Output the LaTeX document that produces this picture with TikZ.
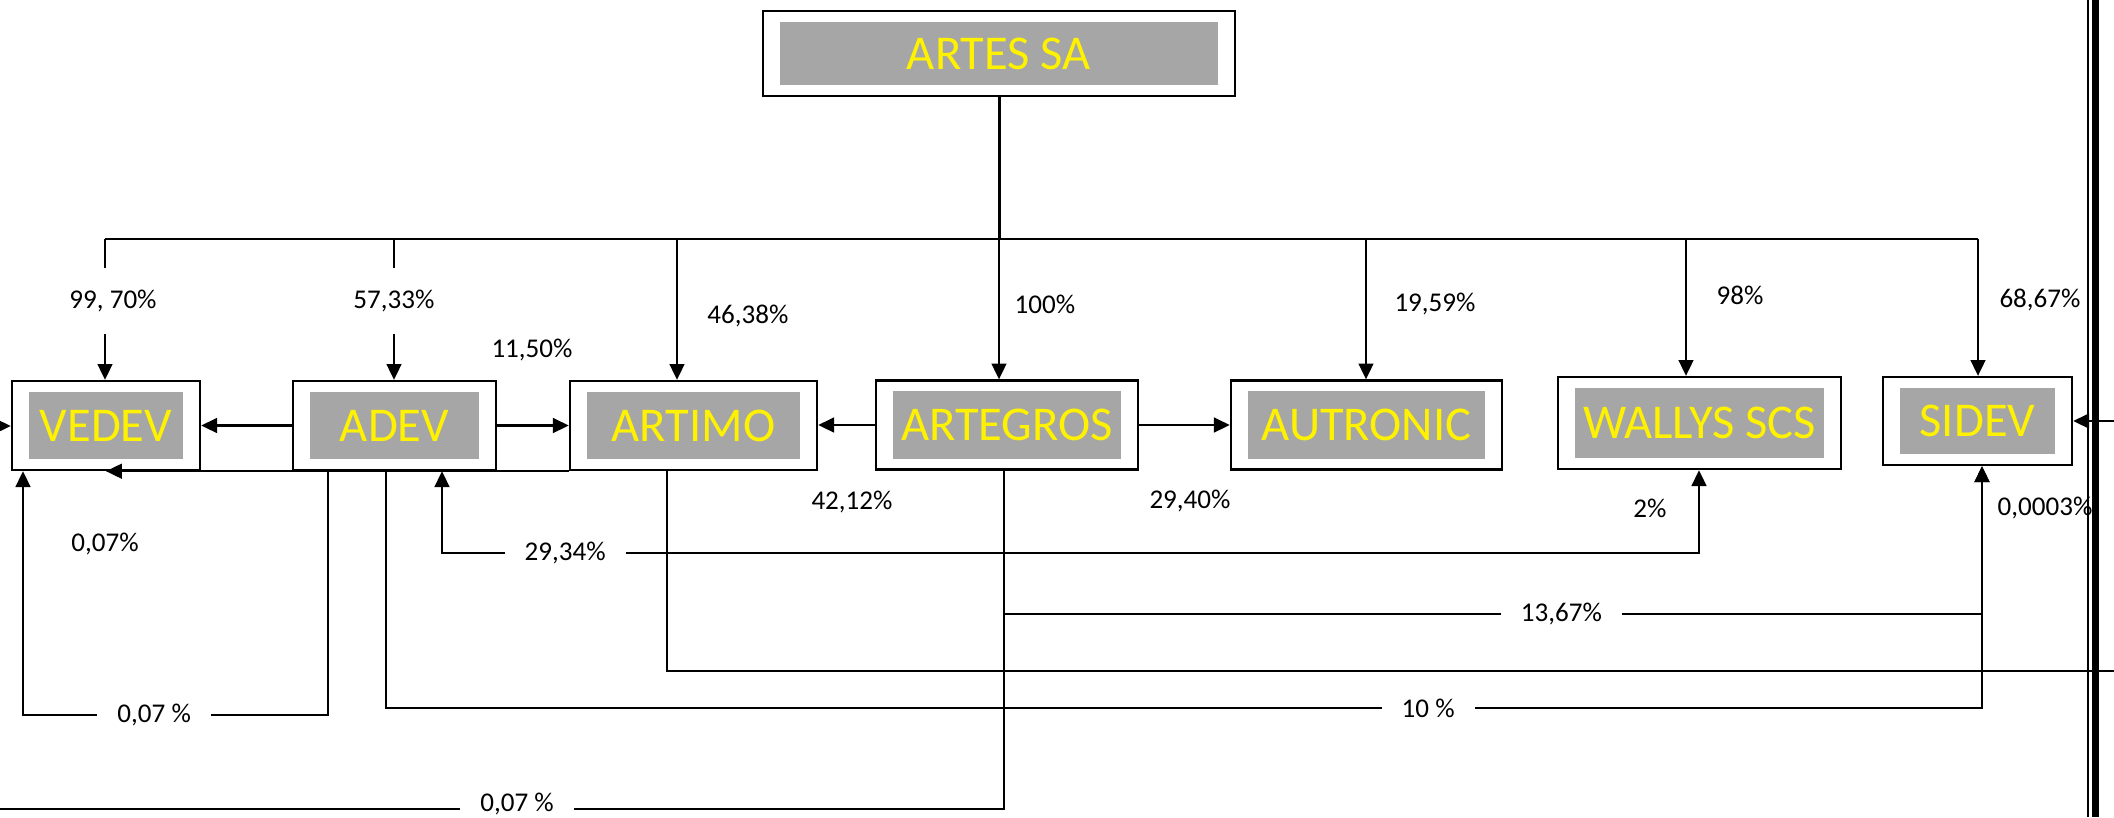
\documentclass[tikz,border=0pt]{standalone}
\usepackage{fontspec}
\usetikzlibrary{arrows.meta}
\newfontfamily\calibfont{Carlito}
\definecolor{boxgray}{HTML}{A6A6A6}

\begin{document}
\begin{tikzpicture}[x=0.01cm,y=-0.01cm,
  firm/.style={draw,line width=0.65pt,fill=white,inner sep=0pt,minimum height=0.89cm,
    text=yellow,font=\calibfont\fontsize{13.8}{16}\selectfont,
    path picture={\fill[boxgray] ([xshift=0.17cm,yshift=-0.11cm]path picture bounding box.north west)
      rectangle ([xshift=-0.17cm,yshift=0.11cm]path picture bounding box.south east);}},
  lbl/.style={font=\calibfont\fontsize{7.7}{9}\selectfont,inner sep=1pt},
  hcut/.style={lbl,fill=white,inner xsep=0.2cm,inner ysep=0.05cm},
  vcut/.style={lbl,fill=white,minimum height=0.66cm},
  link/.style={line width=0.6pt},
  >={Triangle[length=4.5pt,width=4.2pt]}]

\useasboundingbox (0,0) rectangle (2114,817);

\node[firm,minimum width=4.72cm,minimum height=0.85cm] (artes) at (999,53.5) {ARTES SA};

\node[firm,minimum width=1.88cm] (vedev) at (106,425.5) {VEDEV};
\node[firm,minimum width=2.03cm] (adev) at (394.5,425.5) {ADEV};
\node[firm,minimum width=2.47cm] (artimo) at (693.5,425.5) {ARTIMO};
\node[firm,minimum width=2.62cm] (artegros) at (1007,425) {ARTEGROS};
\node[firm,minimum width=2.71cm] (autronic) at (1366.5,425) {AUTRONIC};
\node[firm,minimum width=2.83cm,minimum height=0.92cm] (wallys) at (1699.5,423) {WALLYS SCS};
\node[firm,minimum width=1.89cm,minimum height=0.88cm] (sidev) at (1977.5,421) {SIDEV};

\coordinate (top) at (999,239);
\coordinate (bV) at (105,239);
\coordinate (bA) at (394,239);
\coordinate (bT) at (677,239);
\coordinate (bU) at (1366,239);
\coordinate (bW) at (1686,239);
\coordinate (bS) at (1978,239);
\coordinate (inV) at (0,426);
\coordinate (inS) at (2114,421);
\coordinate (outW) at (0,809);
\coordinate (outE) at (2114,671);

\draw[line width=0.85pt] (artes.south) -- (top);
\draw[line width=0.75pt] (bV) -- (bS);

\draw[link,->] (bV) -- node[vcut,pos=.44,xshift=0.08cm] {99, 70\%} (bV |- vedev.north);
\draw[link,->] (bA) -- node[vcut,pos=.44] {57,33\%} (bA |- adev.north);
\draw[link,->] (bT) -- (bT |- artimo.north);
\draw[link,->] (top) -- (top |- artegros.north);
\draw[link,->] (bU) -- (bU |- autronic.north);
\draw[link,->] (bW) -- (bW |- wallys.north);
\draw[link,->] (bS) -- (bS |- sidev.north);

\node[lbl] (l4638) at (748,316) {46,38\%};
\node[lbl] (l100) at (1045,304) {100\%};
\node[lbl] (l1959) at (1435,304) {19,59\%};
\node[lbl] (l98) at (1740,295) {98\%};
\node[lbl] (l6867) at (2040,300) {68,67\%};
\node[lbl] (l1150) at (532,350) {11,50\%};
\node[lbl] (l4212) at (852,502) {42,12\%};
\node[lbl] (l2940) at (1190,501) {29,40\%};
\node[lbl] (l2) at (1650,508) {2\%};
\node[lbl] (l0003) at (2045,508) {0,0003\%};
\node[lbl] (l007) at (105,544) {0,07\%};

\draw[link,->] (adev) -- (vedev);
\draw[link,->] (adev) -- (artimo);
\draw[link,->] (artegros.west) -- (artegros.west -| artimo.east);
\draw[link,->] (artegros.east) -- (artegros.east -| autronic.west);
\draw[link,->] (inV) -- (inV -| vedev.west);
\draw[link,->] (inS) -- (inS -| sidev.east);
\draw[link,->] (artimo.south west) -- (vedev.south);

\draw[link,->] (328,0 |- adev.south) -- (328,715) -- node[hcut,pos=.57] {0,07 \%} (23,715) -- (23,0 |- vedev.south);
\draw[link,->] (386,0 |- adev.south) -- (386,708) -- node[hcut,pos=.653] {10 \%} (1982,708) -- (1982,0 |- sidev.south);
\draw[link,->] (1004,0 |- artegros.south) -- (1004,614) -- node[hcut,pos=.57] {13,67\%} (1982,614) -- (1982,0 |- sidev.south);
\draw[link] (1004,0 |- artegros.south) -- (1004,809) -- node[hcut,pos=.485,yshift=0.05cm,inner ysep=0pt] {0,07 \%} (outW);
\draw[link] (667,0 |- artimo.south) -- (667,671) -- (outE);
\draw[link,<->] (442,0 |- adev.south) -- (442,553) -- node[hcut,pos=.098] {29,34\%} (1699,553) -- (1699,0 |- wallys.south);

\draw[line width=0.4pt] (2088,0) -- (2088,817);
\fill (2092,0) rectangle (2099,817);

\end{tikzpicture}
\end{document}
